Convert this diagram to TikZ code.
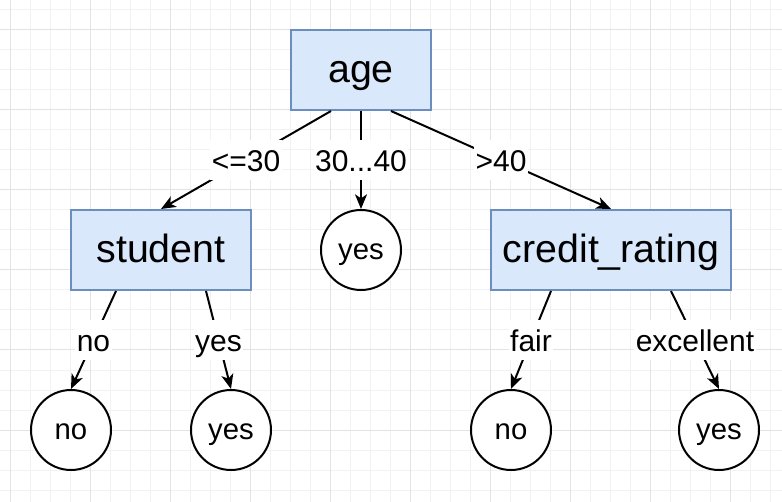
\documentclass[tikz,border=0pt]{standalone}
\usepackage{fontspec}
\setmainfont{Liberation Sans}
\usepackage{xcolor}
\usetikzlibrary{arrows.meta}

\definecolor{attrfill}{HTML}{DAE8FC}
\definecolor{attrline}{HTML}{6C8EBF}
\definecolor{gridminor}{HTML}{F2F2F2}
\definecolor{gridmajor}{HTML}{E3E3E3}

\tikzset{
    attr/.style={draw=attrline, fill=attrfill, line width=1.5pt, minimum height=60pt, inner sep=0pt, text height=26.5pt, text depth=7pt, font=\fontsize{29.5}{35}\selectfont},
    leaf/.style={draw, circle, fill=white, line width=1.5pt, minimum size=60pt, inner sep=0pt, text height=19.8pt, text depth=5.3pt, font=\fontsize{22}{26}\selectfont},
    branch/.style={line width=1.5pt, -{Stealth[length=11pt,width=9pt,inset=3pt]}},
    cond/.style={fill=white, inner xsep=1pt, inner ysep=1.5pt, text height=22pt, text depth=4.5pt, font=\fontsize{22.5}{27}\selectfont},
}

\begin{document}
\begin{tikzpicture}[x=0.75pt,y=0.75pt,yscale=-1,xscale=1]
    \useasboundingbox (0,0) rectangle (782,502);
    
    % grid
    \fill [white] (0,0) rectangle (782,502);
    \foreach \gx in {10,30,...,770} \draw [gridminor, line width=0.75pt] (\gx,0) -- (\gx,502);
    \foreach \gy in {10,30,...,490} \draw [gridminor, line width=0.75pt] (0,\gy) -- (782,\gy);
    \foreach \gx in {10,90,...,730} \draw [gridmajor, line width=0.75pt] (\gx,0) -- (\gx,502);
    \foreach \gy in {30,110,...,430} \draw [gridmajor, line width=0.75pt] (0,\gy) -- (782,\gy);
    
    % attribute nodes
    \node [attr, minimum width=105pt] (age) at (361,70) {age};
    \node [attr, minimum width=135pt] (student) at (161,250) {student};
    \node [attr, minimum width=180pt] (credit) at (611,250) {credit\_rating};
    
    % leaves
    \node [leaf] (midyes) at (361,250) {yes};
    \node [leaf] (stuno) at (71,430) {no};
    \node [leaf] (stuyes) at (231,430) {yes};
    \node [leaf] (credno) at (511,430) {no};
    \node [leaf] (credyes) at (719,430) {yes};
    
    % branches of age
    \draw [branch] ([xshift=-22.5pt]age.south) -- (student.north) node [cond, midway] {<=30};
    \draw [branch] (age.south) -- (midyes.north) node [cond, midway] {30...40};
    \draw [branch] ([xshift=22.5pt]age.south) -- (credit.north) node [cond, midway] {>40};
    
    % branches of student
    \draw [branch] ([xshift=-33.75pt]student.south) -- (stuno.north) node [cond, midway] {no};
    \draw [branch] ([xshift=33.75pt]student.south) -- (stuyes.north) node [cond, midway] {yes};
    
    % branches of credit_rating
    \draw [branch] ([xshift=-45pt]credit.south) -- (credno.north) node [cond, midway] {fair};
    \draw [branch] ([xshift=45pt]credit.south) -- (credyes.north) node [cond, midway] {excellent};
    
\end{tikzpicture}
\end{document}
